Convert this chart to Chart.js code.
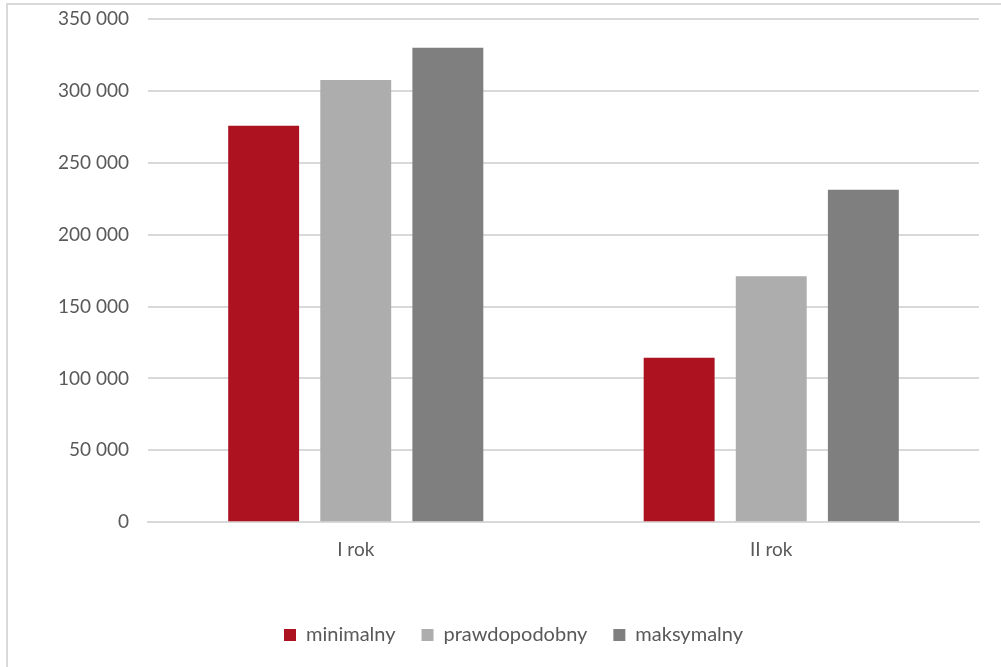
<!DOCTYPE html>
<html>
<head>
<meta charset="utf-8">
<script src="https://cdn.jsdelivr.net/npm/chart.js@4"></script>
<style>
html,body{margin:0;padding:0;background:#fff;}
#wrap{width:1001px;height:667px;position:relative;}
</style>
</head>
<body>
<div id="wrap"><canvas id="c" width="1001" height="667"></canvas></div>
<script>
const categories = ["I rok", "II rok"];
const seriesNames = ["minimalny", "prawdopodobny", "maksymalny"];
const minimalny = [275700, 114300];
const prawdopodobny = [307600, 171000];
const maksymalny = [330000, 231300];
const yTicks = [0, 50000, 100000, 150000, 200000, 250000, 300000, 350000];
const colors = ["#AC1220", "#ADADAD", "#7F7F7F"];

const fmt = v => String(v).replace(/\B(?=(\d{3})+(?!\d))/g, " ");

const framePlugin = {
  id: 'frame',
  beforeDraw(chart) {
    const ctx = chart.ctx;
    ctx.save();
    ctx.fillStyle = '#fff';
    ctx.fillRect(0, 0, chart.width, chart.height);
    ctx.strokeStyle = '#d9d9d9';
    ctx.lineWidth = 2;
    ctx.beginPath();
    ctx.moveTo(7, chart.height);
    ctx.lineTo(7, 4);
    ctx.lineTo(chart.width, 4);
    ctx.stroke();
    ctx.restore();
  }
};

const legendShift = {
  id: 'legendShift',
  afterLayout(chart) {
    if (chart.legend) {
      chart.legend.left += 24;
      chart.legend.right += 24;
    }
  }
};

const FONT = { family: 'Lato', size: 19 };
const LEGEND_FONT = { family: 'Lato', size: 20 };

new Chart(document.getElementById('c'), {
  type: 'bar',
  data: {
    labels: categories,
    datasets: [
      { label: seriesNames[0], data: minimalny, backgroundColor: colors[0] },
      { label: seriesNames[1], data: prawdopodobny, backgroundColor: colors[1] },
      { label: seriesNames[2], data: maksymalny, backgroundColor: colors[2] }
    ]
  },
  options: {
    responsive: false,
    animation: false,
    devicePixelRatio: 1,
    layout: { padding: { top: 19, right: 22, bottom: 12, left: 0 } },
    datasets: { bar: { barPercentage: 0.77, categoryPercentage: 0.665 } },
    font: FONT,
    plugins: {
      tooltip: { enabled: false },
      legend: {
        position: 'bottom',
        labels: {
          color: '#595959',
          font: LEGEND_FONT,
          boxWidth: 12,
          boxHeight: 12,
          padding: 26
        }
      }
    },
    scales: {
      x: {
        afterFit(s) { s.height += 22; },
        grid: { display: false, drawTicks: false },
        border: { display: true, color: '#d9d9d9', width: 2 },
        ticks: { color: '#595959', font: FONT, padding: 16 }
      },
      y: {
        min: 0, max: 350000,
        afterFit(s) { s.width = 148; s.paddingTop = 0; s.paddingBottom = 0; },
        afterBuildTicks(s) { s.ticks = yTicks.map(v => ({ value: v })); },
        grid: { color: '#d9d9d9', lineWidth: 2, drawTicks: false },
        border: { display: false },
        ticks: { color: '#595959', font: FONT, padding: 19, callback: v => fmt(v) }
      }
    }
  },
  plugins: [framePlugin, legendShift]
});
</script>
</body>
</html>
